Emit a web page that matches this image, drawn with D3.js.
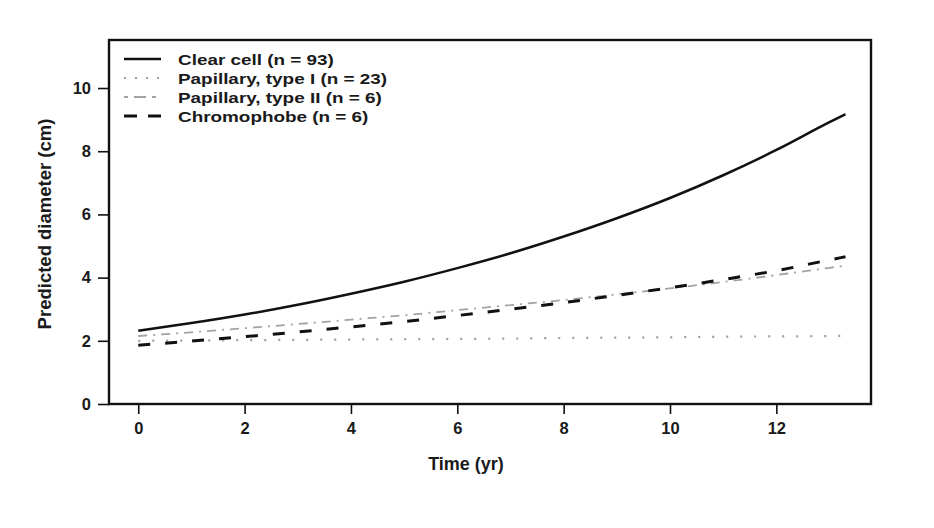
<!DOCTYPE html>
<html>
<head>
<meta charset="utf-8">
<script src="https://cdn.jsdelivr.net/npm/d3@7"></script>
<style>
  html, body { margin: 0; padding: 0; background: #fff; }
  text { font-family: "Liberation Sans", Arial, Helvetica, sans-serif; font-weight: bold; fill: #1a1a1a; }
</style>
</head>
<body>
<div id="chart"></div>
<script>
// time points (yr) and predicted diameter (cm)
const years = [0, 1, 2, 3, 4, 5, 6, 7, 8, 9, 10, 11, 12, 13, 13.3];
const clearCell = [2.32, 2.56, 2.83, 3.14, 3.49, 3.87, 4.3, 4.77, 5.3, 5.88, 6.52, 7.24, 8.04, 8.92, 9.17];
const papillaryI = [2.0, 2.01, 2.02, 2.03, 2.04, 2.05, 2.06, 2.07, 2.09, 2.1, 2.11, 2.13, 2.14, 2.15, 2.16];
const papillaryII = [2.15, 2.27, 2.4, 2.53, 2.67, 2.81, 2.97, 3.13, 3.29, 3.47, 3.66, 3.86, 4.08, 4.31, 4.38];
const chromophobe = [1.86, 1.99, 2.13, 2.28, 2.44, 2.61, 2.8, 3.0, 3.21, 3.44, 3.68, 3.94, 4.22, 4.56, 4.66];

const seriesNames = ['Clear cell (n = 93)', 'Papillary, type I (n = 23)', 'Papillary, type II (n = 6)', 'Chromophobe (n = 6)'];
const xTicks = [0, 2, 4, 6, 8, 10, 12];
const yTicks = [0, 2, 4, 6, 8, 10];

const styles = [
  { stroke: '#111', width: 2.5, dash: null },
  { stroke: '#9c9c9c', width: 2.2, dash: '2,12' },
  { stroke: '#a3a3a3', width: 1.8, dash: '9,6,2,6' },
  { stroke: '#111', width: 3, dash: '12,15' },
];
const legendDash = [null, '2,9', '4,6,12,6', '13,11'];
const seriesData = [clearCell, papillaryI, papillaryII, chromophobe];

const W = 934, H = 528;
const box = { left: 109, right: 871, top: 40, bottom: 404 };

const svg = d3.select('#chart').append('svg').attr('width', W).attr('height', H);

const x = d3.scaleLinear().domain([-0.55, 13.78]).range([box.left, box.right]);
const y = d3.scaleLinear().domain([0, 11.52]).range([box.bottom, box.top]);

// plot box
svg.append('rect')
  .attr('x', box.left).attr('y', box.top)
  .attr('width', box.right - box.left).attr('height', box.bottom - box.top)
  .attr('fill', 'none').attr('stroke', '#111').attr('stroke-width', 2.4);

const xAxis = svg.append('g')
  .attr('transform', `translate(0,${box.bottom})`)
  .call(d3.axisBottom(x).tickValues(xTicks).tickSize(10).tickPadding(8));
const yAxis = svg.append('g')
  .attr('transform', `translate(${box.left},0)`)
  .call(d3.axisLeft(y).tickValues(yTicks).tickSize(11).tickPadding(7));

[xAxis, yAxis].forEach((a) => {
  a.select('.domain').remove();
  a.selectAll('line').attr('stroke', '#111').attr('stroke-width', 1.6);
  a.selectAll('text').attr('font-size', 16.5).style('font-family', '"Liberation Sans", Arial, sans-serif').style('font-weight', 'bold').attr('fill', '#1a1a1a');
});

// axis titles
svg.append('text')
  .attr('x', 466).attr('y', 470)
  .attr('text-anchor', 'middle').attr('font-size', 18)
  .text('Time (yr)');
svg.append('text')
  .attr('transform', 'translate(51,224) rotate(-90)')
  .attr('text-anchor', 'middle').attr('font-size', 18.5)
  .text('Predicted diameter (cm)');

// curves
const line = d3.line().curve(d3.curveMonotoneX);
seriesData.forEach((vals, i) => {
  const s = styles[i];
  svg.append('path')
    .attr('d', line(years.map((t, j) => [x(t), y(vals[j])])))
    .attr('fill', 'none')
    .attr('stroke', s.stroke)
    .attr('stroke-width', s.width)
    .attr('stroke-dasharray', s.dash);
});

// legend (the original type is set wide, hence the horizontal stretch)
const legend = svg.append('g').attr('transform', 'translate(124,59)');
seriesNames.forEach((name, i) => {
  const s = styles[i];
  const g = legend.append('g').attr('transform', `translate(0,${i * 19})`);
  g.append('line')
    .attr('x1', 0).attr('x2', 37).attr('y1', 0).attr('y2', 0)
    .attr('stroke', s.stroke)
    .attr('stroke-width', s.width)
    .attr('stroke-dasharray', legendDash[i]);
  g.append('text')
    .attr('transform', 'translate(54,5.5) scale(1.22,1)')
    .attr('font-size', 15.5)
    .text(name);
});
</script>
</body>
</html>
